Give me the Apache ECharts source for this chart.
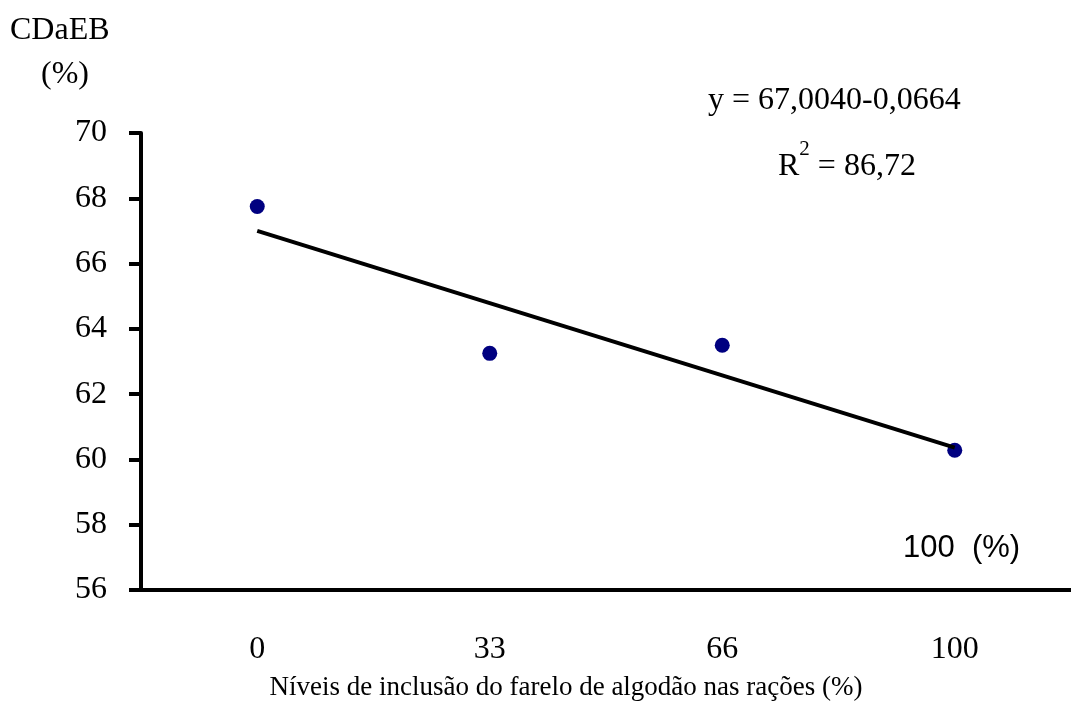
<!DOCTYPE html>
<html>
<head>
<meta charset="utf-8">
<script src="https://cdn.jsdelivr.net/npm/echarts@6/dist/echarts.min.js"></script>
<style>
  html, body { margin: 0; padding: 0; background: #fff; }
  #chart { width: 1071px; height: 711px; }
</style>
</head>
<body>
<div id="chart"></div>
<script>
// níveis de inclusão (%)
const levels = ['0', '33', '66', '100']
// CDaEB observado (%)
const observed = [67.75, 63.25, 63.5, 60.28]
// reta ajustada: y = 67,0040 - 0,0664x (extremos em 0 e 100)
const fitted = [67.004, null, null, 60.364]
const yTicks = { min: 56, max: 70, step: 2 }

const serif = 'Liberation Serif'
const chart = echarts.init(document.getElementById('chart'))

const option = {
  animation: false,
  grid: {
    left: 141,
    right: -8,
    top: 133,
    bottom: 121
  },
  xAxis: {
    type: 'category',
    data: levels,
    boundaryGap: true,
    axisLine: { lineStyle: { color: '#000', width: 4 } },
    axisTick: { length: 12, lineStyle: { color: '#000', width: 4 } },
    axisLabel: { margin: 44, fontFamily: serif, fontSize: 32, color: '#000' },
    splitLine: { show: false }
  },
  yAxis: {
    type: 'value',
    min: yTicks.min,
    max: yTicks.max,
    interval: yTicks.step,
    axisLine: { show: true, lineStyle: { color: '#000', width: 4 } },
    axisTick: { show: true, length: 12, lineStyle: { color: '#000', width: 4 } },
    axisLabel: { margin: 34, fontFamily: serif, fontSize: 32, color: '#000' },
    splitLine: { show: false }
  },
  series: [
    {
      type: 'scatter',
      data: observed,
      symbol: 'circle',
      symbolSize: 15,
      itemStyle: { color: '#000080', opacity: 1 },
      z: 2
    },
    {
      type: 'line',
      data: fitted,
      connectNulls: true,
      symbol: 'none',
      lineStyle: { color: '#000', width: 4 },
      z: 3
    }
  ],
  graphic: [
    {
      type: 'text', x: 10, y: 31,
      style: { text: 'CDaEB', fontFamily: serif, fontSize: 32, fill: '#000', align: 'left', verticalAlign: 'middle' }
    },
    {
      type: 'text', x: 41, y: 75,
      style: { text: '(%)', fontFamily: serif, fontSize: 32, fill: '#000', align: 'left', verticalAlign: 'middle' }
    },
    {
      type: 'text', x: 708, y: 101,
      style: { text: 'y = 67,0040-0,0664', fontFamily: serif, fontSize: 32, fill: '#000', align: 'left', verticalAlign: 'middle' }
    },
    {
      type: 'text', x: 778, y: 161,
      style: {
        text: '{b|R}{s|2}{b| = 86,72}',
        fill: '#000',
        align: 'left',
        verticalAlign: 'middle',
        rich: {
          b: { fontFamily: serif, fontSize: 32, verticalAlign: 'bottom', lineHeight: 44 },
          s: { fontFamily: serif, fontSize: 21, verticalAlign: 'top', lineHeight: 44 }
        }
      }
    },
    {
      type: 'text', x: 903, y: 548,
      style: { text: '100  (%)', fontFamily: 'Liberation Sans', fontSize: 31, fill: '#000', align: 'left', verticalAlign: 'middle' }
    },
    {
      // título do eixo x (o eixo passa da borda direita, então fica fora do xAxis.name)
      type: 'text', x: 566, y: 688,
      style: {
        text: 'Níveis de inclusão do farelo de algodão nas rações (%)',
        fontFamily: serif, fontSize: 27, fill: '#000', align: 'center', verticalAlign: 'middle'
      }
    }
  ]
}

chart.setOption(option)
window.onresize = () => {
  chart.resize()
}
</script>
</body>
</html>
